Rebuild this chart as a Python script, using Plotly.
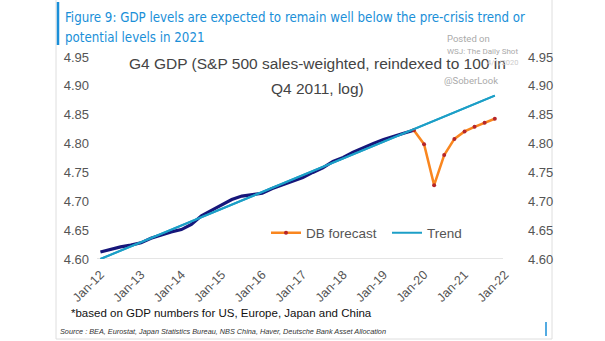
import plotly.graph_objects as go

# ---- data ----
actual_dates = [
    "2012-01-01", "2012-04-01", "2012-07-01", "2012-10-01",
    "2013-01-01", "2013-04-01", "2013-07-01", "2013-10-01",
    "2014-01-01", "2014-04-01", "2014-07-01", "2014-10-01",
    "2015-01-01", "2015-04-01", "2015-07-01", "2015-10-01",
    "2016-01-01", "2016-04-01", "2016-07-01", "2016-10-01",
    "2017-01-01", "2017-04-01", "2017-07-01", "2017-10-01",
    "2018-01-01", "2018-04-01", "2018-07-01", "2018-10-01",
    "2019-01-01", "2019-04-01", "2019-07-01", "2019-10-01",
]
actual_values = [
    4.612, 4.617, 4.621, 4.624,
    4.628, 4.636, 4.642, 4.647,
    4.651, 4.660, 4.675, 4.684,
    4.694, 4.703, 4.709, 4.711,
    4.714, 4.722, 4.728, 4.734,
    4.741, 4.750, 4.758, 4.769,
    4.776, 4.785, 4.793, 4.800,
    4.807, 4.813, 4.818, 4.823,
]
forecast_dates = [
    "2019-10-01", "2020-01-01", "2020-04-01", "2020-07-01", "2020-10-01",
    "2021-01-01", "2021-04-01", "2021-07-01", "2021-10-01",
]
forecast_values = [4.823, 4.799, 4.728, 4.780, 4.808, 4.821, 4.829, 4.836, 4.843]
trend_dates = ["2012-01-01", "2021-10-01"]
trend_values = [4.600, 4.883]

tick_dates = [f"{y}-01-01" for y in range(2012, 2023)]
tick_labels = [f"Jan-{str(y)[2:]}" for y in range(2012, 2023)]
y_ticks = [4.60, 4.65, 4.70, 4.75, 4.80, 4.85, 4.90, 4.95]
y_tick_labels = [f"{v:.2f}" for v in y_ticks]

NAVY = "#16167a"
TEAL = "#1c9fc7"
ORANGE = "#f9861f"
MARKER = "#b5262a"
BLUE = "#1a8fd8"
GREY = "#555555"

fig = go.Figure()
fig.add_trace(go.Scatter(x=actual_dates, y=actual_values, mode="lines",
                         line=dict(color=NAVY, width=3.2), showlegend=False))
fig.add_trace(go.Scatter(x=trend_dates, y=trend_values, mode="lines",
                         line=dict(color=TEAL, width=2), showlegend=False))
fig.add_trace(go.Scatter(x=forecast_dates, y=forecast_values, mode="lines+markers",
                         name="DB forecast",
                         line=dict(color=ORANGE, width=2.5),
                         marker=dict(color=MARKER, size=4)))
fig.add_trace(go.Scatter(x=trend_dates, y=trend_values, mode="lines", name="Trend",
                         line=dict(color=TEAL, width=2)))
# right axis mirror (invisible)
fig.add_trace(go.Scatter(x=trend_dates, y=trend_values, mode="lines", yaxis="y2",
                         line=dict(color="rgba(0,0,0,0)", width=0), showlegend=False,
                         hoverinfo="skip"))

W, H = 605, 341
L, R, T, B = 97, 506, 57, 259


def px(x):
    return (x - L) / (R - L)


def py(y):
    return (B - y) / (B - T)


fig.update_layout(
    width=W, height=H,
    margin=dict(l=L, r=W - R, t=T, b=H - B, pad=0),
    paper_bgcolor="white", plot_bgcolor="white",
    font=dict(family="Liberation Sans, Arial, sans-serif", color=GREY, size=13),
    xaxis=dict(range=["2011-12-01", "2022-01-10"], tickvals=tick_dates, ticktext=tick_labels,
               tickangle=-45, showgrid=False, zeroline=False, showline=False,
               ticks="", ticklabelstandoff=5, tickfont=dict(size=12.5, color=GREY)),
    yaxis=dict(range=[4.60, 4.95], tickvals=y_ticks, ticktext=y_tick_labels,
               showgrid=False, zeroline=False, showline=False, ticks="",
               ticklabelstandoff=7, tickfont=dict(size=13, color=GREY)),
    yaxis2=dict(range=[4.60, 4.95], tickvals=y_ticks, ticktext=y_tick_labels,
                overlaying="y", side="right", showgrid=False, zeroline=False,
                showline=False, ticks="", ticklabelstandoff=21,
                tickfont=dict(size=13, color=GREY)),
    legend=dict(orientation="h", x=px(266), y=py(233),
                xanchor="left", yanchor="middle", bgcolor="rgba(0,0,0,0)",
                font=dict(size=13.5, color=GREY), entrywidth=76, itemwidth=30),
    showlegend=True,
)

# x axis base line
fig.add_shape(type="line", xref="paper", yref="y", x0=0, x1=px(503), y0=4.60, y1=4.60,
              line=dict(color="#dddddd", width=1.5), layer="below")

# card border and title bar
fig.add_shape(type="rect", xref="paper", yref="paper",
              x0=px(56), x1=px(552), y0=py(339), y1=py(-2),
              line=dict(color="#dedede", width=1), layer="below")
fig.add_shape(type="line", xref="paper", yref="paper",
              x0=px(58), x1=px(58), y0=py(2), y1=py(45),
              line=dict(color=BLUE, width=2.5))
fig.add_shape(type="line", xref="paper", yref="paper",
              x0=px(546), x1=px(546), y0=py(322), y1=py(336),
              line=dict(color=BLUE, width=1.5))


def ann(text, x, y, size, color, xanchor="left", family=None, align="left"):
    fig.add_annotation(text=text, xref="paper", yref="paper", x=px(x), y=py(y),
                       xanchor=xanchor, yanchor="middle", showarrow=False, align=align,
                       font=dict(size=size, color=color,
                                 family=family or "Roboto, Liberation Sans, sans-serif"))


TITLE_FONT = "DejaVu Sans Condensed, Roboto, sans-serif"
ann("Figure 9: GDP levels are expected to remain well below the pre-crisis trend or",
    63, 17, 13.2, BLUE, family=TITLE_FONT)
ann("potential levels in 2021", 63, 38, 13.2, BLUE, family=TITLE_FONT)
ann("Posted on", 445, 39, 9.5, "#aaaaaa")
ann("WSJ: The Daily Shot", 445, 52, 8, "#aaaaaa")
ann("G4 GDP (S&P 500 sales-weighted, reindexed to 100 in",
    317, 63, 15.5, "#444444", xanchor="center", family="Liberation Sans, Arial, sans-serif")
ann("Q4 2011, log)",
    317, 88, 15.5, "#444444", xanchor="center", family="Liberation Sans, Arial, sans-serif")
ann("4/1/2020", 485, 62, 7.5, "#cccccc")
ann("@SoberLook", 442, 80, 9.5, "#aaaaaa")
ann("*based on GDP numbers for US, Europe, Japan and China", 69, 313, 11.5, "#111111",
    family="Liberation Sans, Arial, sans-serif")
ann("<i>Source : BEA, Eurostat, Japan Statistics Bureau, NBS China, Haver, Deutsche Bank Asset Allocation</i>",
    58, 331, 7.3, "#333333", family="Liberation Sans, Arial, sans-serif")

fig.write_html("out.html")
